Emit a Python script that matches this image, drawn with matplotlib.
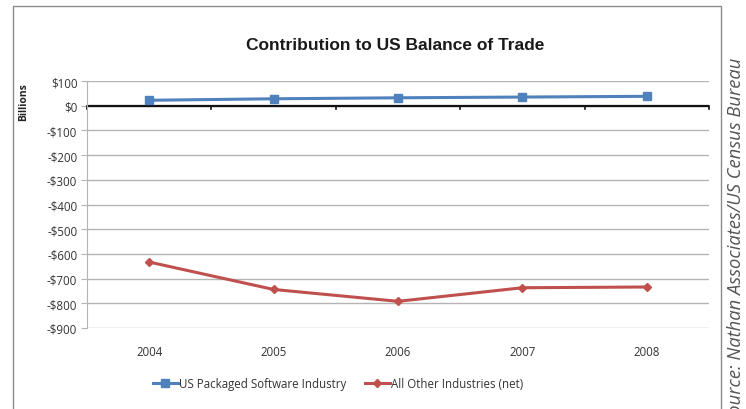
import matplotlib
matplotlib.use("Agg")
import matplotlib.pyplot as plt
from matplotlib.patches import Rectangle
from matplotlib.lines import Line2D

years = ["2004", "2005", "2006", "2007", "2008"]
software = [22, 28, 32, 35, 38]
other = [-633, -744, -792, -737, -734]
y_ticks = [100, 0, -100, -200, -300, -400, -500, -600, -700, -800, -900]
y_tick_labels = ["$100", "$0", "-$100", "-$200", "-$300", "-$400", "-$500",
                 "-$600", "-$700", "-$800", "-$900"]

W, H = 746, 410
fig = plt.figure(figsize=(W / 100, H / 100), dpi=100)
fig.patch.set_facecolor("white")

# outer chart frame
fig.patches.append(Rectangle((13 / W, -0.05), (721 - 13) / W, 1.05 - 7 / H,
                             transform=fig.transFigure, fill=False,
                             edgecolor="#8a8a8a", linewidth=1.0))

ax = fig.add_axes([87 / W, 1 - 329 / H, (709 - 87) / W, (329 - 82) / H])
x = list(range(len(years)))

ax.set_xlim(-0.5, len(years) - 0.5)
ax.set_ylim(-900, 100)
ax.set_yticks(y_ticks)
ax.set_yticklabels(y_tick_labels, fontfamily="Open Sans", fontsize=8.3, color="#333333")
ax.yaxis.grid(True, color="#b4b4b4", linewidth=1.0)
ax.set_axisbelow(True)
ax.tick_params(axis="y", length=4, color="#b4b4b4", pad=3)
ax.set_xticks([])
for s in ["top", "right", "bottom"]:
    ax.spines[s].set_visible(False)
ax.spines["left"].set_color("#b4b4b4")

# horizontal category axis crossing at zero
ax.axhline(0, color="#111111", linewidth=1.6, zorder=2)
for b in range(len(years) + 1):
    ax.plot([b - 0.5, b - 0.5], [0, -12], color="#111111", linewidth=1.2,
            zorder=2, clip_on=False)

for i, yr in enumerate(years):
    ax.text(i, -995, yr, ha="center", va="center", fontfamily="Open Sans",
            fontsize=8.3, color="#333333")

ax.plot(x, software, color="#4f81bd", linewidth=2.2, marker="s", markersize=5.5,
        zorder=3, clip_on=False)
ax.plot(x, other, color="#c0504d", linewidth=2.2, marker="D", markersize=4.5,
        zorder=3, clip_on=False)

ax.set_ylabel("Billions", fontfamily="Open Sans", fontsize=7.5, fontweight="bold",
              color="#222222")
ax.yaxis.set_label_coords(-58 / 622, 0.92)

fig.text(395 / W, 1 - 45 / H, "Contribution to US Balance of Trade",
         ha="center", va="center", fontfamily="Liberation Sans",
         fontsize=12.5, fontweight="bold", color="#1a1a1a")

handles = [
    Line2D([], [], color="#4f81bd", linewidth=2.2, marker="s", markersize=5.5),
    Line2D([], [], color="#c0504d", linewidth=2.2, marker="D", markersize=4.5),
]
fig.legend(handles, ["US Packaged Software Industry", "All Other Industries (net)"],
           loc="center", bbox_to_anchor=(338 / W, 1 - 385 / H), ncol=2,
           frameon=False, prop={"family": "Open Sans", "size": 8.3},
           labelcolor="#333333", handlelength=2.2, handletextpad=0.1,
           columnspacing=1.6)

fig.text(736 / W, 1 - 58 / H, "Source: Nathan Associates/US Census Bureau",
         rotation=90, ha="center", va="top", fontfamily="Open Sans",
         fontstyle="italic", fontsize=13.2, color="#555555")

fig.savefig("out.png", dpi=100)
